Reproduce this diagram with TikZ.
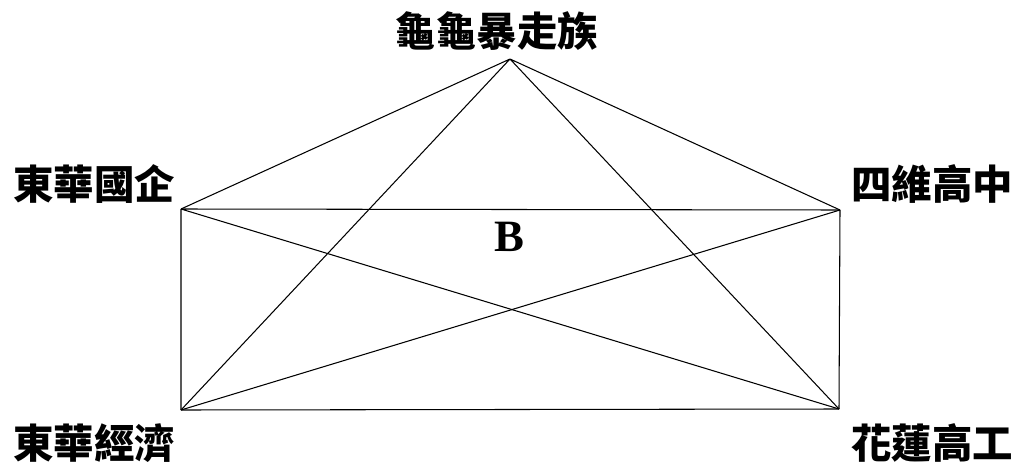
\documentclass[tikz,border=0pt]{standalone}
\usepackage{fontspec}
\setmainfont{Liberation Serif}
\newfontfamily\cjk{Noto Sans CJK TC}
\usepackage{tikz}

\tikzset{
  edge/.style={line width=0.6pt},
  team/.style={font=\cjk\bfseries\fontsize{23pt}{23pt}\selectfont, inner sep=0pt}
}

\begin{document}
\begin{tikzpicture}[x=0.02cm, y=-0.02cm]
  \useasboundingbox (0,0) rectangle (1025,470);
  % corners of the bracket
  \coordinate (top) at (510,59);
  \coordinate (lt) at (181,209);
  \coordinate (rt) at (840,210);
  \coordinate (lb) at (181,410);
  \coordinate (rb) at (839,409);
  % team names
  \node[team] (ttop) at (497,31) {龜龜暴走族};
  \node[team] (tlt) at (94,184) {東華國企};
  \node[team] (trt) at (932,184) {四維高中};
  \node[team] (tlb) at (94,443) {東華經濟};
  \node[team] (trb) at (932,443) {花蓮高工};
  % group label
  \node[font=\bfseries\fontsize{25.5pt}{25.5pt}\selectfont, inner sep=0pt] (grp) at (509,237) {B};
  % every pair plays once
  \draw[edge] (top) -- (lt) (top) -- (rt) (top) -- (lb) (top) -- (rb);
  \draw[edge] (lt) -- (rt) (lt) -- (lb) (lt) -- (rb);
  \draw[edge] (rt) -- (lb) (rt) -- (rb);
  \draw[edge] (lb) -- (rb);
\end{tikzpicture}
\end{document}
